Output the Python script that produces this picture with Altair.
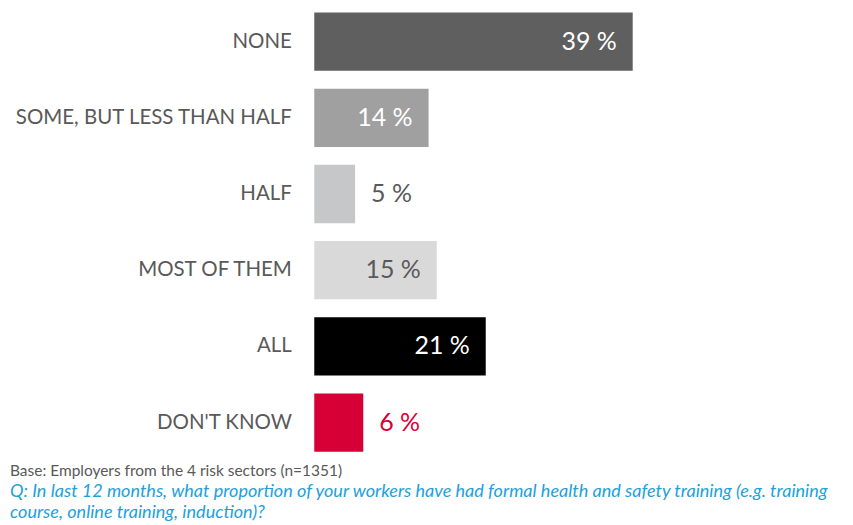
import altair as alt
import pandas as pd

categories = ["NONE", "SOME, BUT LESS THAN HALF", "HALF", "MOST OF THEM", "ALL", "DON'T KNOW"]
values = [39, 14, 5, 15, 21, 6]

bar_colors = ["#5f5f5f", "#a0a0a0", "#c6c7c9", "#d9d9d9", "#000000", "#d70036"]
label_colors = ["#ffffff", "#ffffff", "#595959", "#595959", "#ffffff", "#d70036"]

base_note = "Base: Employers from the 4 risk sectors (n=1351)"
question = [
    "Q: In last 12 months, what proportion of your workers have had formal health and safety training (e.g. training",
    "course, online training, induction)?",
]

df = pd.DataFrame({"category": categories, "value": values})
df["label"] = df["value"].astype(str) + " %"

FONT = "Lato"

y_enc = alt.Y(
    "category:N",
    sort=categories,
    scale=alt.Scale(paddingInner=0.235, paddingOuter=0.05),
    axis=alt.Axis(
        title=None, ticks=False, domain=False, labelPadding=23,
        labelFont=FONT, labelFontSize=20.5, labelFontWeight=400,
        labelColor="#595959", labelLimit=400,
    ),
)
x_enc = alt.X("value:Q", scale=alt.Scale(domain=[0, 65], nice=False), axis=None)

bars = alt.Chart(df).mark_bar().encode(
    y=y_enc,
    x=x_enc,
    color=alt.Color("category:N", scale=alt.Scale(domain=categories, range=bar_colors), legend=None),
)

text_color = alt.Color("category:N", scale=alt.Scale(domain=categories, range=label_colors), legend=None)

inside = alt.Chart(df).transform_filter("datum.value >= 10").mark_text(
    align="right", baseline="middle", dx=-16, font=FONT, fontSize=25, fontWeight=400
).encode(y=y_enc, x=x_enc, text="label:N", color=text_color)

outside = alt.Chart(df).transform_filter("datum.value < 10").mark_text(
    align="left", baseline="middle", dx=16, font=FONT, fontSize=25, fontWeight=400
).encode(y=y_enc, x=x_enc, text="label:N", color=text_color)

chart = (
    alt.layer(bars, inside, outside)
    .resolve_scale(color="independent")
    .properties(
        width=532,
        height=448,
        padding={"left": 2, "top": 0, "right": 0, "bottom": 0},
        title=alt.TitleParams(
            text=base_note,
            subtitle=question,
            orient="bottom",
            anchor="start",
            frame="group",
            dx=-305,
            offset=9,
            font=FONT,
            fontSize=15.5,
            fontWeight=400,
            color="#595959",
            subtitleFont=FONT,
            subtitleFontSize=18.1,
            subtitleFontStyle="italic",
            subtitleFontWeight=400,
            subtitleColor="#1ea0dc",
            subtitleLineHeight=21,
            subtitlePadding=3,
        ),
    )
    .configure_view(stroke=None)
)

chart.save("out.html", embed_options={"renderer": "svg", "actions": False})
